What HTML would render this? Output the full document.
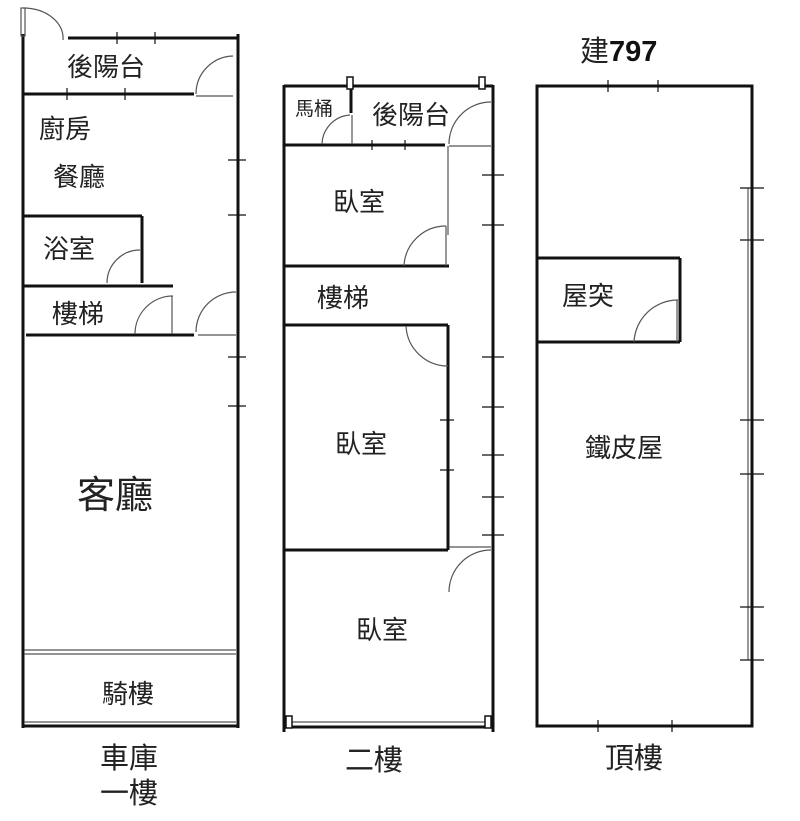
<!DOCTYPE html>
<html><head><meta charset="utf-8"><style>body{margin:0;background:#fff}svg{display:block}text{font-family:"Liberation Sans","Noto Sans CJK TC",sans-serif;fill:#222}</style></head><body>
<svg width="800" height="821" viewBox="0 0 800 821" xmlns="http://www.w3.org/2000/svg">
<g stroke="#111" stroke-width="3" fill="none">
<line x1="23" y1="34" x2="23" y2="728"/>
<line x1="238" y1="34" x2="238" y2="728"/>
<line x1="68" y1="38" x2="238" y2="38"/>
<line x1="22" y1="94" x2="194" y2="94"/>
<line x1="22" y1="216" x2="142" y2="216"/>
<line x1="142" y1="216" x2="142" y2="283"/>
<line x1="22" y1="286" x2="173" y2="286"/>
<line x1="26" y1="335" x2="194" y2="335"/>
<line x1="22" y1="726" x2="238" y2="726"/>
<line x1="284" y1="85" x2="284" y2="732"/>
<line x1="493" y1="85" x2="493" y2="732"/>
<line x1="284" y1="86" x2="493" y2="86"/>
<line x1="351" y1="86" x2="351" y2="113"/>
<line x1="284" y1="145" x2="445" y2="145"/>
<line x1="284" y1="266" x2="449" y2="266"/>
<line x1="284" y1="325" x2="448" y2="325"/>
<line x1="448" y1="325" x2="448" y2="550"/>
<line x1="284" y1="550" x2="448" y2="550"/>
<line x1="284" y1="727" x2="493" y2="727"/>
<rect x="537" y="86" width="215" height="640"/>
<line x1="537" y1="258" x2="680" y2="258"/>
<line x1="680" y1="258" x2="680" y2="342"/>
<line x1="537" y1="342" x2="680" y2="342"/>
</g>
<g stroke="#555" stroke-width="1.2" fill="none">
<path d="M23 8 A 40 30 0 0 1 63 40"/><rect x="21" y="8" width="4" height="28"/>
<path d="M233 56 A 38 38 0 0 0 196 94"/><line x1="196" y1="96" x2="233" y2="96"/>
<path d="M140 250 A 33 33 0 0 0 107 283"/>
<path d="M173 296 A 38 38 0 0 0 135 334"/><line x1="172" y1="296" x2="172" y2="334"/>
<path d="M236 292 A 40 40 0 0 0 196 332"/><line x1="198" y1="335" x2="236" y2="335"/>
<line x1="24" y1="654" x2="236" y2="654"/><line x1="24" y1="650" x2="236" y2="650"/>
<line x1="24" y1="722" x2="236" y2="722"/>
<path d="M350 115 A 30 30 0 0 0 322 144"/><line x1="352" y1="115" x2="352" y2="144"/>
<path d="M491 102 A 42 42 0 0 0 449 144"/><line x1="449" y1="146" x2="491" y2="146"/><line x1="448" y1="146" x2="448" y2="235"/>
<path d="M446 226 A 42 42 0 0 0 404 266"/><line x1="446" y1="226" x2="446" y2="266"/>
<path d="M406 326 A 42 42 0 0 0 448 366"/>
<path d="M491 550 A 42 42 0 0 0 449 592" /><line x1="449" y1="547" x2="491" y2="547"/>
<line x1="286" y1="722" x2="491" y2="722"/>
<path d="M678 300 A 44 44 0 0 0 634 342"/><line x1="677" y1="300" x2="677" y2="342"/>
<line x1="748" y1="188" x2="748" y2="660"/>
</g>
<g stroke="#111" stroke-width="1.2">
<path d="M117 32v12M155 32v12M67 88v12M125 88v12M228 160h18M228 215h18M228 357h18M228 406h18"/>
<path d="M372 140v10M405 140v10M482 175h22M482 225h22M482 357h22M482 407h22M482 455h22M482 497h22M482 535h22M440 420h14M440 470h14"/>
<path d="M608 80v12M658 80v12M740 188h24M740 240h24M740 420h24M740 474h24M740 607h24M740 660h24M598 720v12M672 720v12"/>
</g>
<g fill="#fff" stroke="#111" stroke-width="1.5"><rect x="347" y="77" width="6" height="12"/><rect x="479" y="77" width="6" height="12"/><rect x="286" y="716" width="6" height="12"/><rect x="485" y="716" width="6" height="12"/></g>
<g font-size="26">
<text x="67" y="76">後陽台</text><text x="39" y="138">廚房</text><text x="53" y="186">餐廳</text>
<text x="43" y="258">浴室</text><text x="52" y="323">樓梯</text><text x="77" y="508" font-size="38">客廳</text>
<text x="102" y="703">騎樓</text>
<text x="295" y="115" font-size="19">馬桶</text><text x="372" y="124">後陽台</text><text x="333" y="211">臥室</text>
<text x="317" y="307">樓梯</text><text x="335" y="453">臥室</text><text x="356" y="639">臥室</text>
<text x="562" y="305">屋突</text><text x="585" y="457">鐵皮屋</text>
<text x="100" y="768" font-size="29">車庫</text><text x="100" y="803" font-size="29">一樓</text>
<text x="345" y="770" font-size="29">二樓</text><text x="605" y="768" font-size="29">頂樓</text>
<text x="580" y="61" font-size="29">建<tspan font-weight="bold" fill="#111">797</tspan></text>
</g>
</svg>
</body></html>
